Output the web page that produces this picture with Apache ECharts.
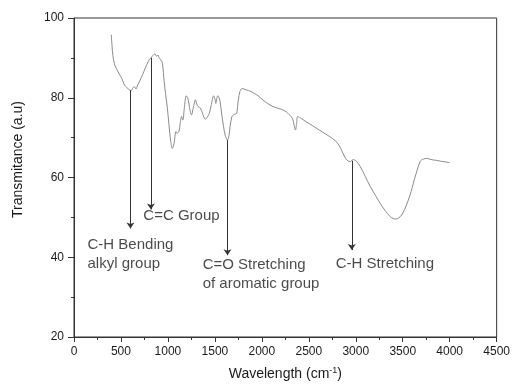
<!DOCTYPE html>
<html>
<head>
<meta charset="utf-8">
<script src="https://cdn.jsdelivr.net/npm/echarts@6/dist/echarts.min.js"></script>
<style>html,body{margin:0;padding:0;background:#fff}#c{width:513px;height:388px}</style>
</head>
<body>
<div id="c"></div>
<script>
// FTIR spectrum (wavenumber, transmittance)
var wavenumbers = [397,405,414,430,450,470,485,510,537,560,590,610,625,643,660,678,700,730,760,783,800,819,840,861,880,895,906,925,941,960,975,994,1010,1030,1047,1065,1085,1099,1117,1130,1145,1159,1175,1195,1210,1223,1238,1251,1270,1293,1307,1321,1346,1370,1398,1420,1440,1460,1486,1500,1510,1520,1531,1545,1556,1575,1592,1610,1634,1650,1662,1680,1697,1715,1732,1750,1767,1790,1809,1840,1873,1920,1960,2013,2060,2118,2180,2220,2259,2290,2312,2330,2345,2358,2370,2382,2420,2470,2540,2611,2680,2751,2800,2839,2865,2892,2920,2944,2970,2986,3010,3049,3100,3155,3210,3260,3310,3366,3400,3429,3460,3489,3520,3559,3590,3612,3640,3665,3685,3700,3720,3752,3790,3823,3860,3900,3928,3960,4000];
var transmittance = [95.8,93,90.6,88.5,87.4,86.5,85.8,84.8,83.2,82.6,82.0,81.8,82.4,82.8,82.2,83.2,84.2,85.8,87.5,88.7,89.5,90.0,90.6,91.0,90.4,90.7,90.0,89.5,88.7,84,81,77.4,73.5,69,67.3,68.5,71.5,71.1,71.5,73.5,75.3,74.4,77.5,80.5,80,78.6,76.5,75.7,77.5,79.5,78.4,77.8,77.4,76,74.6,75.2,76.0,78,80.5,79.8,78.6,79.8,80.5,80,79.0,75.5,72.8,70.6,69.4,70.5,72.8,75.2,75.7,75.9,76.1,79.5,81.6,82.3,82.2,81.9,81.7,81.1,80.5,79.4,78.6,77.8,77.3,77.0,76.5,75.8,75.3,74.5,73,71.9,73.5,75.3,74.8,74.0,73,71.9,70.9,69.8,68.8,67.3,66,64.8,64.1,64.0,64.5,64.4,64,62.7,60.3,57.7,55.5,53.5,51.8,50.2,49.7,49.6,49.9,50.6,52,54.3,56.5,58.5,60.8,62.7,64.0,64.4,64.6,64.8,64.6,64.4,64.3,64.1,64.0,63.9,63.7];

// Arrows (band positions)
var arrowX   = [601, 819, 1634, 2958];
var arrowTop = [81.9, 90.0, 69.4, 64.2];
var arrowTip = [47.2, 52.0, 40.5, 41.8];

// Annotation texts and anchor (value space)
var annotText = ['C-H Bending\nalkyl group', 'C=C Group', 'C=O Stretching\nof aromatic group', 'C-H Stretching'];
var annotX = [144, 738, 1370, 2786];
var annotY = [40.8, 50.3, 35.6, 38.3];

var xTicks = [0,500,1000,1500,2000,2500,3000,3500,4000,4500];
var yTicks = [20,40,60,80,100];

var chart = echarts.init(document.getElementById('c'), null, {renderer:'canvas'});
var font = 'Liberation Sans, Arial, sans-serif';
var axisCol = '#333';

var markData = arrowX.map(function(x,i){
  return [{coord:[x, arrowTop[i]]},{coord:[x, arrowTip[i]]}];
});
var labelData = annotX.map(function(x,i){
  return {value:[x, annotY[i]], name: annotText[i]};
});

chart.setOption({
  animation:false,
  backgroundColor:'#fff',
  grid:{left:74, right:12, top:18, bottom:51, show:true, borderColor:axisCol, borderWidth:1, containLabel:false},
  xAxis:{
    type:'value', min:xTicks[0], max:xTicks[xTicks.length-1], interval:500,
    name:'Wavelength (cm{sup|-1})', nameLocation:'middle', nameGap:29,
    nameTextStyle:{fontFamily:font, fontSize:14, color:'#1a1a1a',
      rich:{sup:{fontSize:9, fontFamily:font, color:'#1a1a1a', verticalAlign:'top', padding:[0,0,8,0]}}},
    axisLine:{show:true, onZero:false, lineStyle:{color:axisCol, width:1}},
    axisTick:{show:true, inside:false, length:5, lineStyle:{color:axisCol}},
    minorTick:{show:true, splitNumber:2, length:3, lineStyle:{color:axisCol}},
    axisLabel:{fontFamily:font, fontSize:12, color:'#1a1a1a', margin:9,
      formatter:function(v){return String(v);}},
    splitLine:{show:false}
  },
  yAxis:{
    type:'value', min:yTicks[0], max:yTicks[yTicks.length-1], interval:20,
    name:'Transmitance (a.u)', nameLocation:'middle', nameGap:49,
    nameTextStyle:{fontFamily:font, fontSize:14, color:'#1a1a1a', padding:[0,0,0,36]},
    axisLine:{show:true, onZero:false, lineStyle:{color:axisCol, width:1}},
    axisTick:{show:true, inside:false, length:6, lineStyle:{color:axisCol}},
    minorTick:{show:true, splitNumber:2, length:3, lineStyle:{color:axisCol}},
    axisLabel:{fontFamily:font, fontSize:12, color:'#1a1a1a', margin:10},
    splitLine:{show:false}
  },
  series:[
    {
      type:'line', data: wavenumbers.map(function(x,i){return [x, transmittance[i]];}),
      showSymbol:false, symbol:'none', smooth:0.3,
      lineStyle:{color:'#8a8a8a', width:1},
      markLine:{
        silent:true, animation:false,
        symbol:['none','arrow'], symbolSize:6,
        lineStyle:{color:'#333', width:1, type:'solid'},
        itemStyle:{color:'#333'},
        label:{show:false},
        emphasis:{disabled:true},
        data: markData
      }
    },
    {
      type:'scatter', data: labelData, symbolSize:0, silent:true,
      label:{show:true, position:'right', distance:0, formatter:function(p){return p.name;},
        fontFamily:font, fontSize:15, color:'#1a1a1a', lineHeight:19, align:'left', verticalAlign:'middle'}
    }
  ]
});
</script>
</body>
</html>
